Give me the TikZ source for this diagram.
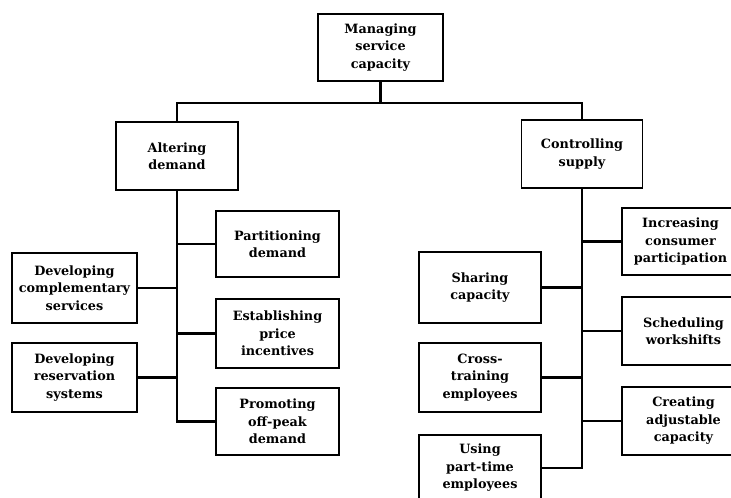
\documentclass[tikz,border=0pt]{standalone}
\usepackage{fontspec}
\setmainfont{DejaVu Serif}
\begin{document}
\begin{tikzpicture}[x=1pt,y=1pt,
  box/.style={draw=black, line width=1.7pt, rectangle, inner sep=0pt, align=center,
    font=\fontsize{12.8}{17.5}\selectfont\bfseries},
  conn/.style={draw=black, line width=2.6pt}]
\useasboundingbox (0,0) rectangle (731,-498);
\clip (0,0) rectangle (731,-498);
\fill[white] (0,0) rectangle (731,-498);
% top level
\node[box, minimum width=125, minimum height=67] (top) at (380.5,-47.5) {Managing\\service\\capacity};
\node[box, minimum width=122, minimum height=68] (alter) at (177,-156) {Altering\\demand};
\node[box, minimum width=121, minimum height=68] (control) at (582,-154) {Controlling\\supply};
% left branch
\node[box, minimum width=123, minimum height=66] (partition) at (277.5,-244) {Partitioning\\demand};
\node[box, minimum width=125, minimum height=70] (complement) at (74.5,-288) {Developing\\complementary\\services};
\node[box, minimum width=123, minimum height=69] (establish) at (277.5,-333.5) {Establishing\\price\\incentives};
\node[box, minimum width=125, minimum height=69] (reserve) at (74.5,-377.5) {Developing\\reservation\\systems};
\node[box, minimum width=123, minimum height=67] (promote) at (277.5,-421.5) {Promoting\\off-peak\\demand};
% right branch
\node[box, minimum width=123, minimum height=67] (increase) at (683.5,-241.5) {\hspace*{-6pt}Increasing\\\hspace*{-6pt}consumer\\\hspace*{-6pt}participation};
\node[box, minimum width=122, minimum height=71] (sharing) at (480,-287.5) {Sharing\\capacity};
\node[box, minimum width=123, minimum height=68] (schedule) at (683.5,-331) {Scheduling\\workshifts};
\node[box, minimum width=122, minimum height=69] (cross) at (480,-377.5) {Cross-\\training\\employees};
\node[box, minimum width=123, minimum height=68] (creating) at (683.5,-421) {Creating\\adjustable\\capacity};
\node[box, minimum width=122, minimum height=66] (using) at (480,-468) {Using\\part-time\\employees};
% connectors
\coordinate (j) at (380.5,-103);
\draw[conn] (top.south) -- (j);
\draw[conn] (alter.north) |- (j) -| (control.north);
\draw[conn] (alter.south) |- (promote.west);
\draw[conn] (partition.west) -- (partition.west -| alter.south);
\draw[conn] (establish.west) -- (establish.west -| alter.south);
\draw[conn] (complement.east) -- (complement.east -| alter.south);
\draw[conn] (reserve.east) -- (reserve.east -| alter.south);
\draw[conn] (control.south) |- (using.east);
\draw[conn] (increase.west) -- (increase.west -| control.south);
\draw[conn] (sharing.east) -- (sharing.east -| control.south);
\draw[conn] (schedule.west) -- (schedule.west -| control.south);
\draw[conn] (cross.east) -- (cross.east -| control.south);
\draw[conn] (creating.west) -- (creating.west -| control.south);
\end{tikzpicture}
\end{document}
